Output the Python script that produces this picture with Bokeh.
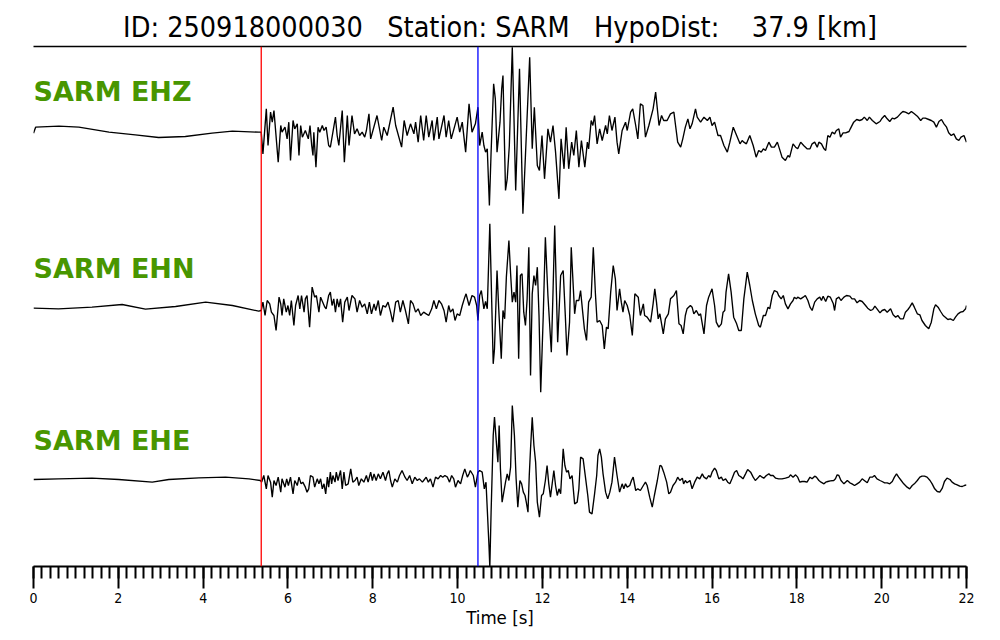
from bokeh.plotting import figure
from bokeh.models import Span, Label, FixedTicker, Range1d, LinearAxis, Title
from bokeh.embed import file_html
from bokeh.resources import INLINE

NB = "\u00a0"
TITLE = "ID: 250918000030 " + NB * 2 + "Station: SARM " + NB * 2 + "HypoDist: " + NB * 3 + "37.9 [km]"
CHANNELS = ["SARM EHZ", "SARM EHN", "SARM EHE"]
P_PICK = 5.37   # s
S_PICK = 10.48  # s
X_TICKS = [0, 2, 4, 6, 8, 10, 12, 14, 16, 18, 20, 22]

# (time [s], amplitude [arbitrary counts])
ehz = [(0.00,-8),(0.05,10),(0.60,13),(1.07,10),(1.78,-5),(2.40,-13),(2.95,-21),(3.58,-18),(4.21,-8),(4.69,-2),(5.31,-5),
(5.37,-5),(5.41,-70),(5.49,65),(5.53,-45),(5.59,55),(5.63,25),(5.67,60),(5.77,-95),(5.83,15),(5.86,-5),(5.93,10),(5.98,-25),(6.02,25),(6.06,-90),(6.12,30),(6.16,5),(6.22,20),(6.26,-75),(6.30,15),(6.34,-20),(6.41,0),(6.48,-25),(6.52,15),(6.56,-45),(6.59,-75),(6.61,-5),(6.66,-110),(6.71,10),(6.75,-5),(6.81,15),(6.85,0),(6.90,10),(6.96,-45),(7.00,-50),(7.06,-5),(7.12,40),(7.16,-15),(7.20,-45),(7.28,60),(7.33,-95),(7.40,45),(7.44,-45),(7.51,45),(7.57,-10),(7.63,5),(7.69,-15),(7.75,-5),(7.81,-20),(7.85,0),(7.91,50),(7.95,-25),(8.10,45),(8.21,-30),(8.26,10),(8.34,-15),(8.48,70),(8.54,15),(8.68,-50),(8.74,30),(8.81,-15),(8.89,20),(8.97,-10),(9.01,25),(9.07,-35),(9.13,45),(9.20,-30),(9.26,45),(9.32,-20),(9.40,30),(9.44,-30),(9.52,40),(9.56,-25),(9.68,45),(9.73,-20),(9.79,30),(9.85,-25),(9.99,40),(10.05,-5),(10.11,25),(10.19,-65),(10.27,80),
(10.34,-5),(10.42,20),(10.48,70),(10.52,-45),(10.58,-5),(10.62,-45),(10.66,-65),(10.70,-55),(10.75,-225),(10.79,-65),(10.85,140),(10.89,95),(10.93,-65),(11.00,25),(11.04,125),(11.07,165),(11.13,-180),(11.17,-145),(11.22,-45),(11.29,250),(11.37,-180),(11.46,185),(11.54,-250),(11.60,-75),(11.70,220),(11.76,-55),(11.81,70),(11.88,-105),(11.93,-120),(11.99,-15),(12.05,-145),(12.13,5),(12.19,-35),(12.25,15),(12.31,-65),(12.39,-205),(12.44,-25),(12.51,-115),(12.56,10),(12.62,-115),(12.69,-35),(12.74,-75),(12.80,0),(12.86,-110),(12.92,-30),(13.00,-110),(13.06,-35),(13.09,-55),(13.15,30),(13.19,15),(13.23,45),(13.29,-40),(13.35,5),(13.41,-30),(13.49,15),(13.53,-10),(13.58,45),(13.64,0),(13.71,40),(13.76,-35),(13.80,-70),(13.88,0),(13.96,25),(14.00,0),(14.08,55),(14.13,65),(14.20,15),(14.25,-25),(14.31,80),(14.37,75),(14.43,-20),(14.51,15),(14.61,65),(14.67,115),(14.75,15),(14.81,45),(14.86,30),(14.94,30),(15.02,50),(15.10,55),(15.14,15),(15.19,-35),(15.26,-50),(15.31,-25),(15.37,10),(15.43,35),(15.48,5),(15.53,20),(15.61,65),(15.65,40),(15.73,25),(15.81,40),(15.89,30),(15.95,40),(16.00,15),(16.06,25),
(16.14,-15),(16.20,-15),(16.28,-45),(16.36,-65),(16.42,-35),(16.50,10),(16.58,-15),(16.66,-40),(16.71,-30),(16.75,-35),(16.81,-40),(16.89,-15),(16.97,-45),(17.04,-80),(17.10,-60),(17.16,-65),(17.21,-55),(17.26,-60),(17.34,-35),(17.40,-50),(17.47,-50),(17.54,-35),(17.59,-55),(17.65,-80),(17.73,-90),(17.79,-75),(17.83,-80),(17.91,-40),(17.97,-50),(18.02,-55),(18.09,-35),(18.16,-45),(18.24,-55),(18.31,-55),(18.36,-40),(18.42,-35),(18.48,-50),(18.52,-35),(18.58,-40),(18.64,-55),(18.68,-60),(18.73,-15),(18.78,-20),(18.83,-5),(18.89,-10),(18.93,0),(18.99,5),(19.03,-20),(19.09,-7),(19.15,-7),(19.23,-3),(19.26,5),(19.34,25),(19.41,33),(19.48,30),(19.54,33),(19.59,40),(19.66,30),(19.71,40),(19.78,30),(19.87,20),(19.96,27),(20.01,37),(20.07,45),(20.13,35),(20.19,27),(20.25,37),(20.30,35),(20.37,40),(20.44,50),(20.50,57),(20.56,55),(20.64,50),(20.70,57),(20.77,50),(20.84,43),(20.92,30),(20.97,37),(21.03,37),(21.11,33),(21.17,30),(21.23,25),(21.29,10),(21.35,27),(21.41,33),(21.47,20),(21.53,10),(21.58,-7),(21.64,-15),(21.70,-10),(21.76,-25),(21.82,-30),(21.87,-20),(21.94,-15),(22.00,-35)]

ehn = [(0.00,-2),(0.59,-4),(1.38,1),(2.09,9),(2.64,-5),(3.35,3),(4.06,16),(4.69,6),(5.31,-11),
(5.37,-9),(5.41,16),(5.46,-24),(5.51,21),(5.57,11),(5.61,-14),(5.67,-24),(5.72,-69),(5.79,31),(5.83,11),(5.86,-24),(5.90,26),(5.96,-14),(6.00,6),(6.04,-24),(6.08,21),(6.14,-54),(6.18,6),(6.24,36),(6.28,-4),(6.32,36),(6.38,-14),(6.41,26),(6.45,36),(6.51,-59),(6.57,61),(6.63,31),(6.67,36),(6.73,-14),(6.77,31),(6.82,16),(6.87,1),(6.90,-4),(6.96,36),(7.00,46),(7.04,6),(7.08,26),(7.12,-14),(7.16,26),(7.20,1),(7.24,26),(7.29,-44),(7.34,16),(7.40,31),(7.44,-9),(7.51,36),(7.58,26),(7.63,-14),(7.69,21),(7.75,1),(7.81,11),(7.87,-19),(7.92,16),(7.97,-19),(8.03,11),(8.07,-9),(8.13,21),(8.18,-24),(8.24,6),(8.30,1),(8.36,16),(8.42,-14),(8.47,-44),(8.54,16),(8.60,21),(8.65,-14),(8.71,21),(8.77,-9),(8.84,-49),(8.89,21),(8.95,11),(9.01,-14),(9.07,-4),(9.13,-24),(9.20,-14),(9.26,-19),(9.32,-24),(9.39,-4),(9.44,21),(9.50,-4),(9.56,21),(9.62,11),(9.68,-9),(9.73,-44),(9.79,6),(9.83,-14),(9.89,-4),(9.94,-39),(9.99,-19),(10.05,-24),(10.11,6),(10.17,31),(10.20,41),(10.27,6),
(10.34,36),(10.40,31),(10.45,6),(10.48,-39),(10.52,36),(10.56,51),(10.62,-4),(10.66,18),(10.70,-4),(10.76,251),(10.84,-169),(10.87,-124),(10.93,111),(10.97,-4),(11.03,-154),(11.07,-9),(11.11,-34),(11.15,91),(11.21,201),(11.25,101),(11.29,16),(11.33,46),(11.37,16),(11.40,126),(11.44,-154),(11.48,96),(11.52,101),(11.56,-14),(11.60,-54),(11.64,26),(11.68,181),(11.72,-204),(11.76,41),(11.80,96),(11.84,66),(11.88,121),(11.92,-24),(11.96,-254),(12.02,-24),(12.07,211),(12.13,36),(12.21,-134),(12.25,46),(12.29,246),(12.36,-104),(12.43,96),(12.49,111),(12.54,-24),(12.58,-144),(12.64,-44),(12.68,181),(12.73,56),(12.76,-19),(12.80,21),(12.86,21),(12.90,51),(12.95,-14),(12.99,-64),(13.04,-99),(13.09,16),(13.15,31),(13.20,181),(13.25,41),(13.29,-44),(13.35,-39),(13.41,-54),(13.46,-124),(13.51,-59),(13.55,-64),(13.61,46),(13.67,126),(13.72,86),(13.76,-9),(13.82,56),(13.86,16),(13.90,-14),(13.94,21),(14.00,6),(14.06,-24),(14.12,-84),(14.18,41),(14.26,31),(14.31,-24),(14.38,11),(14.41,-24),(14.47,-29),(14.55,-44),(14.61,11),(14.65,56),(14.69,16),(14.73,-34),(14.77,-19),(14.85,-79),(14.90,-34),(14.97,-19),(15.02,26),(15.10,36),(15.16,51),(15.22,-49),(15.27,-54),(15.32,-79),(15.37,-24),(15.41,-4),(15.49,6),(15.53,1),(15.57,-19),(15.63,-9),(15.69,-24),(15.73,-19),(15.81,-79),(15.87,6),(15.92,31),
(16.00,56),(16.06,6),(16.10,-44),(16.16,-59),(16.22,-49),(16.26,-14),(16.30,-9),(16.33,46),(16.39,101),(16.45,46),(16.51,-29),(16.58,-49),(16.63,-69),(16.69,-69),(16.75,26),(16.83,106),(16.89,66),(16.95,21),(17.02,-19),(17.10,-54),(17.14,-59),(17.21,-24),(17.26,-24),(17.32,1),(17.36,-4),(17.42,36),(17.47,51),(17.54,46),(17.57,36),(17.63,26),(17.68,36),(17.73,11),(17.79,-4),(17.85,11),(17.91,21),(17.94,31),(17.99,26),(18.02,31),(18.09,26),(18.15,31),(18.20,36),(18.26,21),(18.31,1),(18.36,-9),(18.42,16),(18.48,26),(18.54,31),(18.58,21),(18.62,34),(18.68,18),(18.73,34),(18.79,31),(18.86,11),(18.89,-9),(18.93,26),(18.99,31),(19.04,21),(19.11,31),(19.17,36),(19.25,34),(19.30,26),(19.36,26),(19.42,14),(19.48,21),(19.54,18),(19.62,6),(19.67,-2),(19.74,-9),(19.79,-6),(19.84,4),(19.89,-4),(19.96,-16),(20.01,-9),(20.07,-6),(20.13,-14),(20.21,-4),(20.27,-22),(20.33,-29),(20.38,-24),(20.44,-34),(20.51,-34),(20.56,-14),(20.62,-6),(20.66,1),(20.72,14),(20.77,1),(20.84,-19),(20.90,-22),(20.95,-39),(21.03,-54),(21.11,-64),(21.17,-44),(21.23,-4),(21.27,8),(21.33,1),(21.39,-12),(21.45,-24),(21.50,-29),(21.56,-36),(21.62,-34),(21.69,-39),(21.74,-29),(21.80,-19),(21.86,-14),(21.92,-12),(21.98,-4),(22.00,6)]

ehe = [(0.00,0),(0.59,2),(1.38,4),(2.01,0),(2.80,-8),(3.19,0),(3.90,5),(4.53,7),(5.08,2),(5.35,-3),
(5.38,-8),(5.43,12),(5.49,-28),(5.53,12),(5.59,-8),(5.63,-53),(5.67,-3),(5.72,-18),(5.77,7),(5.83,-38),(5.86,2),(5.93,-23),(5.97,2),(6.01,-18),(6.06,7),(6.12,-43),(6.16,-3),(6.22,-18),(6.26,7),(6.31,-13),(6.35,-8),(6.41,-23),(6.45,-38),(6.49,-28),(6.53,12),(6.59,7),(6.63,-23),(6.69,2),(6.73,-13),(6.77,2),(6.81,-28),(6.85,-13),(6.89,-43),(6.93,7),(6.96,-23),(7.00,22),(7.03,-13),(7.06,12),(7.11,-8),(7.14,22),(7.18,-3),(7.24,27),(7.28,-28),(7.32,22),(7.36,-18),(7.42,-13),(7.48,32),(7.53,-8),(7.58,-3),(7.63,7),(7.67,-18),(7.73,2),(7.79,-8),(7.85,12),(7.89,-8),(7.95,22),(7.99,-3),(8.03,17),(8.08,-3),(8.13,17),(8.18,2),(8.24,22),(8.30,-3),(8.34,17),(8.38,27),(8.42,-3),(8.46,-23),(8.52,2),(8.58,-8),(8.63,12),(8.69,27),(8.76,7),(8.81,-3),(8.87,12),(8.93,-13),(8.99,7),(9.05,-3),(9.10,2),(9.17,-8),(9.20,-3),(9.26,7),(9.31,-8),(9.36,2),(9.42,-23),(9.48,7),(9.54,2),(9.60,12),(9.65,7),(9.70,12),(9.76,7),(9.81,-8),(9.86,12),(9.91,2),(9.95,-23),(10.01,-3),(10.07,-13),(10.12,12),(10.17,32),(10.23,7),(10.27,17),
(10.30,27),(10.37,12),(10.42,-23),(10.48,22),(10.52,27),(10.58,22),(10.63,-28),(10.67,-8),(10.74,-198),(10.76,-263),(10.79,-98),(10.84,132),(10.87,187),(10.92,102),(10.95,52),(10.98,162),(11.01,32),(11.05,-68),(11.09,-38),(11.13,-8),(11.17,17),(11.21,-3),(11.25,37),(11.29,222),(11.34,132),(11.38,2),(11.42,-83),(11.47,-3),(11.51,-13),(11.55,-38),(11.59,-48),(11.62,-68),(11.66,-98),(11.69,12),(11.72,92),(11.76,187),(11.80,102),(11.84,52),(11.88,-68),(11.93,-113),(11.98,-48),(12.02,-43),(12.07,-3),(12.11,42),(12.15,-13),(12.19,-53),(12.23,-13),(12.27,27),(12.31,-18),(12.35,-48),(12.39,-28),(12.43,-43),(12.49,92),(12.53,42),(12.57,22),(12.61,27),(12.65,2),(12.70,12),(12.76,-73),(12.82,-68),(12.86,-28),(12.90,67),(12.96,62),(13.02,2),(13.07,-48),(13.11,-98),(13.17,-103),(13.23,-43),(13.28,12),(13.31,72),(13.35,92),(13.39,67),(13.43,17),(13.49,-38),(13.54,-58),(13.59,-38),(13.64,-8),(13.70,67),(13.76,12),(13.82,-38),(13.88,-13),(13.92,-28),(13.96,-13),(14.00,-23),(14.06,-18),(14.10,-3),(14.14,7),(14.20,-33),(14.25,-28),(14.31,-33),(14.38,-18),(14.43,-8),(14.47,-18),(14.53,-53),(14.59,-83),(14.64,-48),(14.71,-3),(14.77,42),(14.81,40),(14.86,22),(14.93,-8),(14.98,-43),(15.02,-38),(15.08,-18),(15.14,-8),(15.19,7),(15.24,-3),(15.30,4),(15.33,-13),(15.37,-3),(15.41,-10),(15.48,-3),(15.53,-28),(15.59,-8),(15.65,7),(15.71,2),(15.77,17),(15.81,7),(15.87,2),(15.92,12),
(15.96,7),(16.00,22),(16.06,34),(16.10,27),(16.16,2),(16.22,7),(16.26,-3),(16.32,2),(16.37,-8),(16.42,-13),(16.47,2),(16.53,22),(16.58,27),(16.63,12),(16.69,7),(16.73,2),(16.79,17),(16.84,30),(16.91,22),(16.97,7),(17.02,-3),(17.06,2),(17.13,12),(17.18,7),(17.22,4),(17.28,12),(17.34,17),(17.38,12),(17.44,12),(17.50,4),(17.57,2),(17.65,2),(17.73,4),(17.81,7),(17.85,14),(17.91,7),(17.97,14),(18.02,7),(18.07,-8),(18.12,-6),(18.18,-6),(18.24,-8),(18.31,7),(18.36,2),(18.42,10),(18.46,7),(18.52,-3),(18.57,-8),(18.64,-13),(18.68,-8),(18.73,-6),(18.79,-4),(18.87,-3),(18.91,2),(18.95,14),(18.99,12),(19.04,-3),(19.11,-13),(19.19,-3),(19.25,-10),(19.30,-13),(19.36,-18),(19.42,-13),(19.48,-8),(19.54,2),(19.59,-3),(19.66,-10),(19.72,7),(19.78,7),(19.83,12),(19.89,2),(19.96,-3),(20.01,-6),(20.07,-10),(20.13,-10),(20.19,-13),(20.25,-6),(20.30,7),(20.35,17),(20.40,7),(20.46,-3),(20.52,-13),(20.60,-23),(20.66,-28),(20.72,-18),(20.77,-13),(20.84,-3),(20.90,7),(20.95,10),(21.01,10),(21.07,7),(21.14,-3),(21.19,-13),(21.25,-28),(21.31,-36),(21.37,-38),(21.43,-26),(21.48,-6),(21.54,4),(21.61,0),(21.66,-8),(21.72,-13),(21.78,-16),(21.84,-20),(21.90,-21),(21.95,-18),(22.00,-16)]

TRACES = [ehz, ehn, ehe]
OFFSETS = [-252, -783, -1299]     # vertical placement of each trace (plot units)
LABEL_LIFT = 117                  # label baseline above the trace offset
COND = "DejaVu Sans Condensed"

p = figure(frame_width=933, frame_height=520,
           x_range=Range1d(0, 22), y_range=Range1d(-1560, 0),
           output_backend="svg", toolbar_location=None,
           min_border_left=33, min_border_right=34, min_border_top=46, min_border_bottom=74,
           x_axis_location=None, y_axis_location=None)
p.grid.visible = False
p.outline_line_color = None
p.background_fill_color = "white"
p.border_fill_color = "white"

for tr, off, name in zip(TRACES, OFFSETS, CHANNELS):
    t = [s[0] for s in tr]
    y = [off + s[1] for s in tr]
    p.line(t, y, line_color="black", line_width=1.35)
    p.add_layout(Label(x=0, y=off + LABEL_LIFT, text=name, text_font="DejaVu Sans",
                       text_font_style="bold", text_font_size="27px", text_color="#489600",
                       text_baseline="alphabetic", text_align="left"))

p.add_layout(Span(location=P_PICK, dimension="height", line_color="#ff0000", line_width=1.3))
p.add_layout(Span(location=S_PICK, dimension="height", line_color="#0000ff", line_width=1.3))

top = LinearAxis(ticker=FixedTicker(ticks=[]), major_label_text_font_size="0px",
                 major_tick_line_color=None, minor_tick_line_color=None,
                 major_tick_out=0, major_tick_in=0, minor_tick_out=0, minor_tick_in=0,
                 major_label_standoff=0,
                 axis_line_width=1.6, axis_line_color="black")
p.add_layout(top, "above")

ax = LinearAxis(ticker=FixedTicker(ticks=X_TICKS, minor_ticks=[round(i * 0.2, 1) for i in range(111)]))
ax.axis_line_width = 2
ax.major_tick_in = 0
ax.major_tick_out = 22
ax.minor_tick_in = 0
ax.minor_tick_out = 12
ax.major_tick_line_width = 2
ax.minor_tick_line_width = 2
ax.major_label_standoff = 4
ax.major_label_text_font = COND
ax.major_label_text_font_size = "14px"
ax.major_label_text_color = "black"
ax.axis_label = "Time [s]"
ax.axis_label_text_font = COND
ax.axis_label_text_font_size = "18.5px"
ax.axis_label_text_font_style = "normal"
ax.axis_label_text_color = "black"
ax.axis_label_standoff = 1
p.add_layout(ax, "below")

p.title = Title(text=TITLE, align="center", text_font=COND, text_font_size="28.5px",
                text_font_style="normal", text_color="black", standoff=6)

open("out.html", "w").write(file_html(p, INLINE))
